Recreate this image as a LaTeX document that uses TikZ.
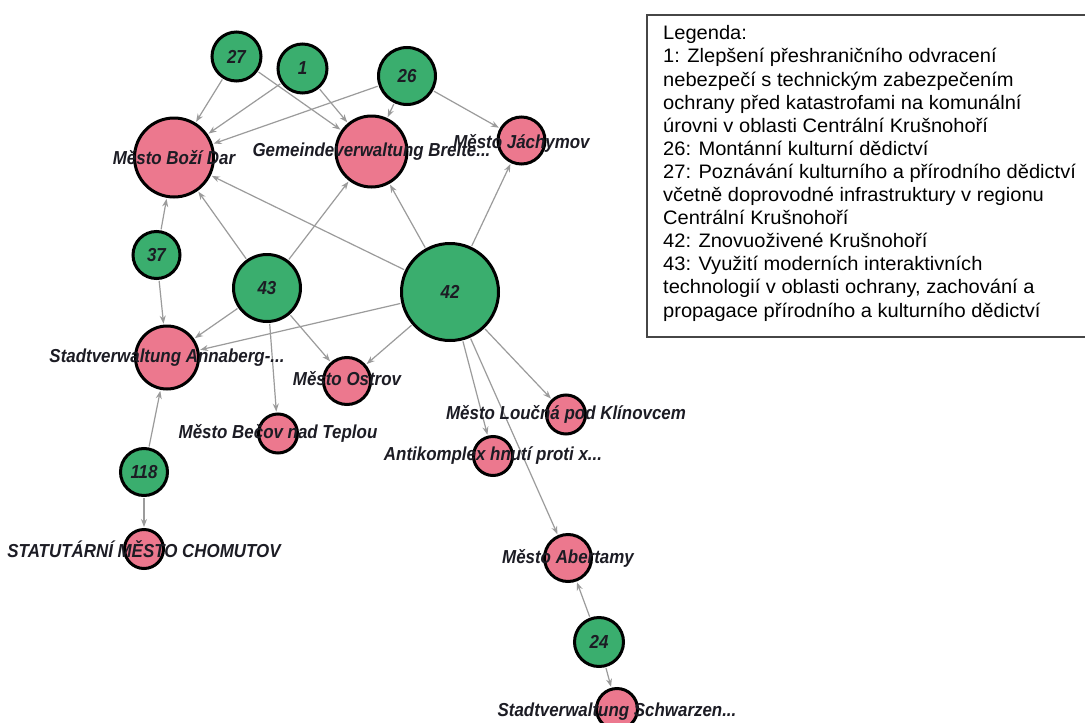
\documentclass[tikz,border=0pt]{standalone}
\usepackage{fontspec}
\setmainfont{Liberation Sans}
\newfontfamily\labfont{Liberation Sans}[FakeStretch=0.9]
\newfontfamily\legfont{Liberation Sans}[FakeStretch=1.03]
\usetikzlibrary{arrows.meta,backgrounds}
\definecolor{gnode}{RGB}{58,174,110}
\definecolor{pnode}{RGB}{236,120,142}
\definecolor{edgec}{RGB}{155,155,155}
\definecolor{labc}{RGB}{28,28,36}
\tikzset{
  basecirc/.style={circle, draw=black, line width=3pt, inner sep=0pt},
  gcirc/.style={basecirc, fill=gnode},
  pcirc/.style={basecirc, fill=pnode},
  lab/.style={text=labc, inner sep=0pt, font=\labfont\bfseries\itshape\fontsize{18.8}{20}\selectfont},
  conn/.style={draw=edgec, line width=1.2pt, -{Stealth[length=8pt,width=6pt]}, shorten >=1pt, shorten <=1pt},
}
\begin{document}
\begin{tikzpicture}[x=1pt,y=-1pt]
\useasboundingbox (0,0) rectangle (1085,723);
% green nodes
\node[gcirc, minimum size=49pt] (g27) at (236.5,56.5) {};
\node[gcirc, minimum size=49pt] (g1) at (302.5,68.5) {};
\node[gcirc, minimum size=57pt] (g26) at (407,76) {};
\node[gcirc, minimum size=47pt] (g37) at (156.5,255) {};
\node[gcirc, minimum size=67pt] (g43) at (267,288) {};
\node[gcirc, minimum size=97pt] (g42) at (450,292) {};
\node[gcirc, minimum size=47pt] (g118) at (144,472) {};
\node[gcirc, minimum size=49pt] (g24) at (599,642) {};
% pink nodes
\node[pcirc, minimum size=79pt] (bd) at (174,157.5) {};
\node[pcirc, minimum size=71pt] (br) at (371.5,151.5) {};
\node[pcirc, minimum size=47pt] (jach) at (521.5,140.5) {};
\node[pcirc, minimum size=63pt] (ann) at (167,357.5) {};
\node[pcirc, minimum size=47pt] (ost) at (347,381) {};
\node[pcirc, minimum size=39pt] (bec) at (278,433.5) {};
\node[pcirc, minimum size=39pt] (lou) at (566,414.5) {};
\node[pcirc, minimum size=39pt] (anti) at (493,456) {};
\node[pcirc, minimum size=39pt] (cho) at (144,549) {};
\node[pcirc, minimum size=47pt] (abe) at (568,558) {};
\node[pcirc, minimum size=41pt] (sch) at (617,709) {};
% edges
\begin{scope}[on background layer]
\fill[white] (0,0) rectangle (1085,723);
\draw[conn] (g27) -- (bd);
\draw[conn] (g27) -- (br);
\draw[conn] (g1) -- (bd);
\draw[conn] (g1) -- (br);
\draw[conn] (g26) -- (bd);
\draw[conn] (g26) -- (br);
\draw[conn] (g26) -- (jach);
\draw[conn] (g37) -- (bd);
\draw[conn] (g37) -- (ann);
\draw[conn] (g43) -- (bd);
\draw[conn] (g43) -- (br);
\draw[conn] (g43) -- (ann);
\draw[conn] (g43) -- (ost);
\draw[conn] (g43) -- (bec);
\draw[conn] (g42) -- (bd);
\draw[conn] (g42) -- (br);
\draw[conn] (g42) -- (jach);
\draw[conn] (g42) -- (ann);
\draw[conn] (g42) -- (ost);
\draw[conn] (g42) -- (lou);
\draw[conn] (g42) -- (anti);
\draw[conn] (g42) -- (abe);
\draw[conn] (g118) -- (ann);
\draw[conn] (g118) -- (cho);
\draw[conn] (g24) -- (abe);
\draw[conn] (g24) -- (sch);
\end{scope}
% labels
\node[lab] (t27) at (g27) {27};
\node[lab] (t1) at (g1) {1};
\node[lab] (t26) at (g26) {26};
\node[lab] (t37) at (g37) {37};
\node[lab] (t43) at (g43) {43};
\node[lab] (t42) at (g42) {42};
\node[lab] (t118) at (g118) {118};
\node[lab] (t24) at (g24) {24};
\node[lab] (tbd) at (bd) {Město Boží Dar};
\node[lab] (tbr) at (br) {Gemeindeverwaltung Breite...};
\node[lab] (tjach) at ([yshift=-3pt]jach) {Město Jáchymov};
\node[lab] (tann) at (ann) {Stadtverwaltung Annaberg-...};
\node[lab] (tost) at ([yshift=2pt]ost) {Město Ostrov};
\node[lab] (tbec) at (bec) {Město Bečov nad Teplou};
\node[lab] (tlou) at (lou) {Město Loučná pod Klínovcem};
\node[lab] (tanti) at (anti) {Antikomplex hnutí proti x...};
\node[lab] (tcho) at (cho) {STATUTÁRNÍ MĚSTO CHOMUTOV};
\node[lab] (tabe) at (abe) {Město Abertamy};
\node[lab] (tsch) at ([yshift=-3pt]sch) {Stadtverwaltung Schwarzen...};
% legend
\draw[draw={rgb,255:red,70;green,70;blue,70}, line width=1.5pt, fill=white] (647,15) rectangle (1100,337);
\node[anchor=north west, inner sep=0pt, align=left, text=black,
      font=\legfont\fontsize{19.5}{23.1}\selectfont] (legend) at (663,25.5)
{Legenda:\\
1: Zlepšení přeshraničního odvracení\\
nebezpečí s technickým zabezpečením\\
ochrany před katastrofami na komunální\\
úrovni v oblasti Centrální Krušnohoří\\
26: Montánní kulturní dědictví\\
27: Poznávání kulturního a přírodního dědictví\\
včetně doprovodné infrastruktury v regionu\\
Centrální Krušnohoří\\
42: Znovuoživené Krušnohoří\\
43: Využití moderních interaktivních\\
technologií v oblasti ochrany, zachování a\\
propagace přírodního a kulturního dědictví};
\end{tikzpicture}
\end{document}
